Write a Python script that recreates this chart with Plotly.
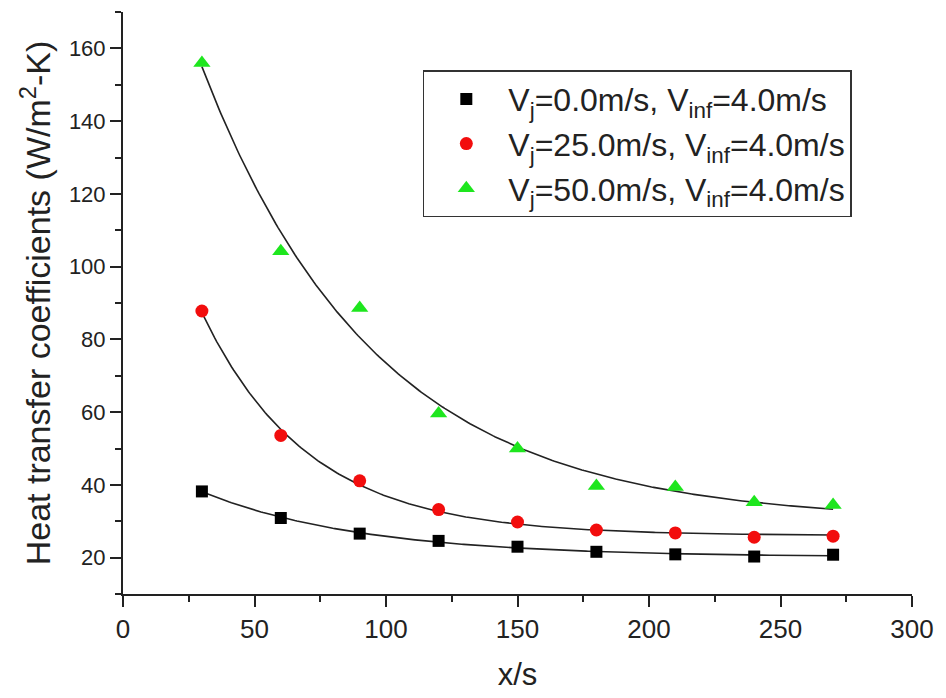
import numpy as np
import plotly.graph_objects as go

# Streamwise positions
x_pos = [30, 60, 90, 120, 150, 180, 210, 240, 270]

# Heat transfer coefficients (W/m^2-K) for each jet velocity
h_vj0 = [38.2, 30.9, 26.6, 24.6, 23.0, 21.6, 20.9, 20.3, 20.8]
h_vj25 = [87.8, 53.6, 41.1, 33.2, 29.8, 27.6, 26.8, 25.6, 25.9]
h_vj50 = [156.0, 104.2, 88.6, 59.6, 50.0, 39.7, 39.4, 35.2, 34.5]

names = [
    "V<sub>j</sub>=0.0m/s, V<sub>inf</sub>=4.0m/s",
    "V<sub>j</sub>=25.0m/s, V<sub>inf</sub>=4.0m/s",
    "V<sub>j</sub>=50.0m/s, V<sub>inf</sub>=4.0m/s",
]
symbols = ["square", "circle", "triangle-up"]
colors = ["#000000", "#f20d0d", "#1ee61e"]
sizes = [12, 13, 15]

FONT = "Liberation Sans, Arial, sans-serif"
INK = "#222222"


def exp_decay_fit(x, y):
    """Least-squares fit of y = y0 + A*exp(-x/t), scanning t."""
    x = np.asarray(x, float)
    y = np.asarray(y, float)
    best = None
    for t in np.linspace(5, 400, 3951):
        M = np.column_stack([np.ones_like(x), np.exp(-x / t)])
        coef, *_ = np.linalg.lstsq(M, y, rcond=None)
        r = np.sum((M @ coef - y) ** 2)
        if best is None or r < best[0]:
            best = (r, coef, t)
    _, (y0, a), t = best
    return lambda xx: y0 + a * np.exp(-np.asarray(xx) / t)


fig = go.Figure()
xs = np.linspace(min(x_pos), max(x_pos), 300)

for h in (h_vj0, h_vj25, h_vj50):
    f = exp_decay_fit(x_pos, h)
    fig.add_trace(go.Scatter(x=xs, y=f(xs), mode="lines",
                             line=dict(color=INK, width=1.6),
                             showlegend=False, hoverinfo="skip"))

for i, (h, name, sym, col, sz) in enumerate(zip((h_vj0, h_vj25, h_vj50), names, symbols, colors, sizes)):
    fig.add_trace(go.Scatter(x=x_pos, y=h, mode="markers", name=name, legendgroup=f"g{i}",
                             marker=dict(symbol=sym, color=col, size=sz, line=dict(width=0))))

axis_common = dict(showline=True, linecolor=INK, linewidth=2,
                   ticks="outside", tickcolor=INK, tickwidth=2, ticklen=11,
                   showgrid=False, zeroline=False, mirror=False)

fig.update_xaxes(range=[0, 300], dtick=50, tick0=0,
                 minor=dict(ticks="outside", dtick=25, ticklen=6, tickwidth=2, tickcolor=INK),
                 tickfont=dict(family=FONT, color=INK, size=26),
                 title=dict(text="x/s", font=dict(size=31, family=FONT, color=INK), standoff=20),
                 **axis_common)
fig.update_yaxes(range=[10, 170], dtick=20, tick0=0,
                 minor=dict(ticks="outside", dtick=10, ticklen=6, tickwidth=2, tickcolor=INK),
                 tickfont=dict(family=FONT, color=INK, size=22),
                 title=dict(text="Heat transfer coefficients (W/m<sup>2</sup>-K)",
                            font=dict(size=34, family=FONT, color=INK), standoff=8),
                 **axis_common)

fig.update_layout(
    width=946, height=698,
    margin=dict(l=123, r=33, t=12, b=101),
    plot_bgcolor="white", paper_bgcolor="white",
    legend=dict(x=0.38, y=0.9, xanchor="left", yanchor="top",
                bordercolor="#333333", borderwidth=1.5, bgcolor="white",
                font=dict(size=32, family=FONT, color=INK),
                itemwidth=74, tracegroupgap=0),
)

fig.write_html("out.html")
